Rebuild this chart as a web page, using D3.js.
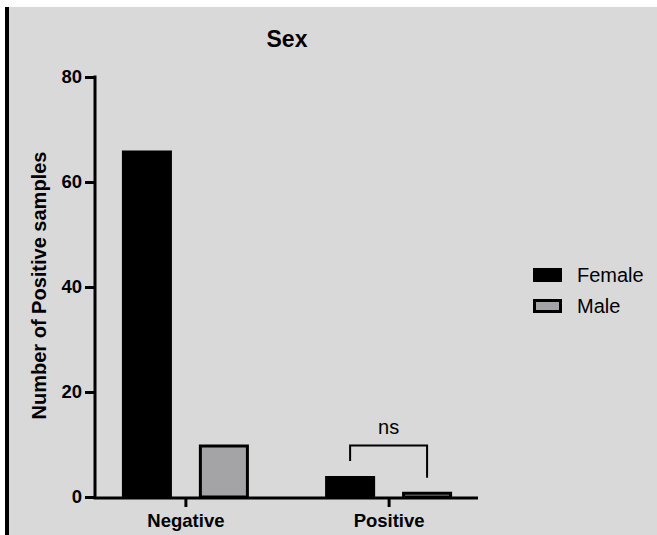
<!DOCTYPE html>
<html>
<head>
<meta charset="utf-8">
<script src="https://cdn.jsdelivr.net/npm/d3@7"></script>
<style>
  html, body { margin: 0; padding: 0; background: #ffffff; }
  svg { display: block; }
  text { font-family: "Liberation Sans", Arial, sans-serif; }
</style>
</head>
<body>
<script>
const categories = ["Negative", "Positive"];
const groups = ["Female", "Male"];
const femaleValues = [66, 4];
const maleValues = [10, 1];
const yTicks = [0, 20, 40, 60, 80];
const title = "Sex";
const yLabel = "Number of Positive samples";
const sigLabel = "ns";

(function () {
const W = 657, H = 535;
const colors = { Female: "#000000", Male: "#a4a4a7" };

const svg = d3.select("body").append("svg").attr("width", W).attr("height", H);

// background
svg.append("rect").attr("x", 0).attr("y", 0).attr("width", W).attr("height", H).attr("fill", "#ffffff");
svg.append("rect").attr("x", 9).attr("y", 7).attr("width", W - 9).attr("height", H - 7).attr("fill", "#d9d9d9");
svg.append("rect").attr("x", 5).attr("y", 7).attr("width", 4).attr("height", H - 7).attr("fill", "#000000");

const y = d3.scaleLinear().domain([0, 80]).range([497, 77]);
const x = d3.scalePoint().domain(categories).range([96, 478]).padding(0.44);
const xs = d3.scaleBand().domain(groups).range([-63.5, 63.5]).paddingInner(0.35).paddingOuter(0);

const data = categories.map((c, i) => ({ cat: c, Female: femaleValues[i], Male: maleValues[i] }));

// bars
const gBars = svg.append("g");
data.forEach(d => {
  groups.forEach(g => {
    const x0 = x(d.cat) + xs(g);
    const yv = y(d[g]);
    gBars.append("rect")
      .attr("x", x0 + 1.5)
      .attr("y", yv + 1.5)
      .attr("width", xs.bandwidth() - 3)
      .attr("height", Math.max(0, y(0) - yv - 1.5))
      .attr("fill", colors[g])
      .attr("stroke", "#000")
      .attr("stroke-width", 3);
  });
});

// y axis
const yAxis = svg.append("g").attr("transform", "translate(95,0)")
  .call(d3.axisLeft(y).tickValues(yTicks).tickSize(10).tickPadding(3).tickSizeOuter(0));
yAxis.select(".domain").attr("stroke", "#000").attr("stroke-width", 3).attr("d", `M0,${y(80)-1.5}V${y(0)+1.5}`);
yAxis.selectAll(".tick line").attr("stroke", "#000").attr("stroke-width", 3).attr("x2", -10);
yAxis.selectAll(".tick text").attr("font-size", 18.5).attr("font-weight", "bold").attr("fill", "#000");

// x axis
const xAxis = svg.append("g").attr("transform", "translate(0,498)")
  .call(d3.axisBottom(x).tickSize(9).tickPadding(7).tickSizeOuter(0));
xAxis.select(".domain").attr("stroke", "#000").attr("stroke-width", 3).attr("d", `M93.5,0H478`);
xAxis.selectAll(".tick line").attr("stroke", "#000").attr("stroke-width", 3);
xAxis.selectAll(".tick text").attr("font-size", 18.5).attr("font-weight", "bold").attr("fill", "#000");

// title
svg.append("text").attr("x", 287).attr("y", 47).attr("text-anchor", "middle")
  .attr("font-size", 23).attr("font-weight", "bold").text(title);

// y label
svg.append("text").attr("transform", `translate(46,285.5) rotate(-90)`).attr("text-anchor", "middle")
  .attr("font-size", 20).attr("font-weight", "bold").text(yLabel);

// significance bracket on Positive
const pc = categories[1];
const lx = x(pc) + xs("Female") + xs.bandwidth() / 2;
const rx = x(pc) + xs("Male") + xs.bandwidth() / 2;
const brTop = y(10) + 1;
svg.append("path")
  .attr("d", `M${lx},${y(femaleValues[1]) - 15}V${brTop}H${rx}V${y(maleValues[1]) - 14}`)
  .attr("fill", "none").attr("stroke", "#000").attr("stroke-width", 2);
svg.append("text").attr("x", (lx + rx) / 2).attr("y", 434).attr("text-anchor", "middle")
  .attr("font-size", 20).attr("fill", "#000").text(sigLabel);

// legend
const leg = svg.append("g");
groups.forEach((g, i) => {
  const yy = 268 + i * 31;
  leg.append("rect").attr("x", 534.5).attr("y", yy + 1.5).attr("width", 26).attr("height", 11)
    .attr("fill", colors[g]).attr("stroke", "#000").attr("stroke-width", 3);
  leg.append("text").attr("x", 577).attr("y", yy + 14).attr("font-size", 20).attr("fill", "#000").text(g);
});
})();
</script>
</body>
</html>
